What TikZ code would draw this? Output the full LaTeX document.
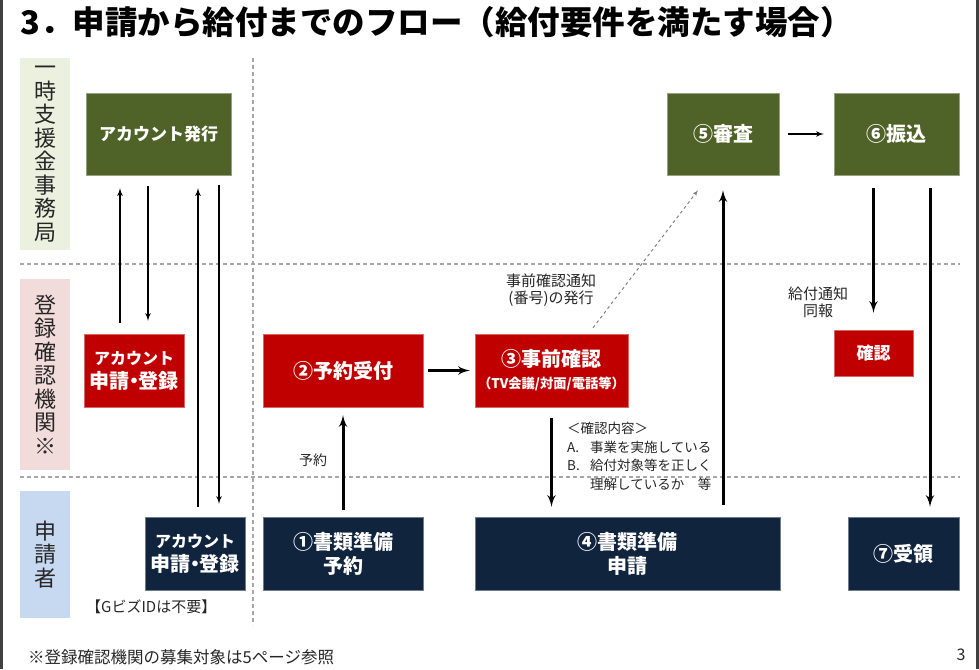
\documentclass[tikz,border=0pt]{standalone}
\usepackage{fontspec}
\setmainfont{Noto Sans CJK JP}
\usetikzlibrary{arrows.meta,arrows}

\definecolor{officegreen}{HTML}{4F6228}
\definecolor{checkred}{HTML}{C00000}
\definecolor{appnavy}{HTML}{10243E}
\definecolor{lanegreen}{HTML}{EBF1DE}
\definecolor{lanered}{HTML}{F2DCDB}
\definecolor{laneblue}{HTML}{C6D9F1}

\begin{document}
\begin{tikzpicture}
[x=1pt,y=-1pt,
lane/.style ={rectangle, inner sep=0pt, minimum width=50pt,
align=center, text=black!85,
font=\fontsize{22}{23.5}\selectfont},
box/.style ={rectangle, inner sep=0pt, text=white, align=center,
font=\bfseries\fontsize{20}{24}\selectfont},
office/.style ={box, fill=officegreen, draw=officegreen!60!white},
checker/.style ={box, fill=checkred, draw=checkred!60!white},
applicant/.style ={box, fill=appnavy, draw=appnavy!60!white},
sep/.style ={draw=gray!70, dash pattern=on 4pt off 3pt, line width=1.1pt},
line/.style ={draw, -latex', line width=1.6pt},
thickline/.style ={draw, -latex', line width=3pt},
note/.style ={inner sep=0pt, text=black!85, align=center,
font=\fontsize{15}{17}\selectfont}]
\useasboundingbox (0,0) rectangle (979,669);
% page frame
\fill[black!75] (0,0) rectangle (3,669);
\fill[black!75] (976,0) rectangle (979,669);
\node [anchor=west, font=\bfseries\fontsize{32.5}{32}\selectfont] (title) at (17,22)
{3．申請から給付までのフロー（給付要件を満たす場合）};
% lanes
\node [lane, fill=lanegreen, minimum height=192pt] (lane1) at (45,154) {一\\時\\支\\援\\金\\事\\務\\局};
\node [lane, fill=lanered, minimum height=191pt] (lane2) at (45,374.5) {登\\録\\確\\認\\機\\関\\※};
\node [lane, fill=laneblue, minimum height=127pt] (lane3) at (45,554.5) {申\\請\\者};
\path [sep] (20,264) -- (960,264);
\path [sep] (20,477) -- (960,477);
\path [sep] (253,58) -- (253,625);
% row 1
\node [office, minimum width=145pt, minimum height=82pt] (issue) at (158.5,134) {\fontsize{17}{20}\selectfont アカウント発行};
\node [office, minimum width=112pt, minimum height=82pt] (review) at (723,134) {⑤審査};
\node [office, minimum width=125pt, minimum height=82pt] (pay) at (896.5,134) {⑥振込};
% row 2
\node [checker, minimum width=100pt, minimum height=73pt] (acctreg) at (134,370.5)
{\fontsize{16}{22}\selectfont アカウント\\申請\makebox[0.45em]{・}登録};
\node [checker, minimum width=160pt, minimum height=73pt] (reserve) at (343,370.5) {②予約受付};
\node [checker, minimum width=153pt, minimum height=73pt] (precheck) at (551.5,370.5)
{③事前確認\\[-2pt]{\fontsize{13.3}{15}\selectfont （TV会議/対面/電話等）}};
\node [checker, minimum width=79pt, minimum height=46pt] (confirm) at (873.5,353) {\fontsize{17}{20}\selectfont 確認};
% row 3
\node [applicant, minimum width=100pt, minimum height=73pt] (acctapp) at (195,553.5)
{\fontsize{16}{22}\selectfont アカウント\\申請\makebox[0.45em]{・}登録};
\node [applicant, minimum width=160pt, minimum height=73pt] (prep) at (343,553.5) {①書類準備\\予約};
\node [applicant, minimum width=305pt, minimum height=73pt] (apply) at (627.5,553.5) {④書類準備\\申請};
\node [applicant, minimum width=111pt, minimum height=73pt] (receive) at (903.5,553.5) {⑦受領};
% labels
\node [note] (notice) at (551,290) {事前確認通知\\(番号)の発行};
\node [note, font=\fontsize{14}{17}\selectfont] (booking) at (313,460) {予約};
\node [note] (sendnote) at (818,302) {給付通知\\同報};
\node [note, anchor=north west, align=left, font=\fontsize{13.5}{18.5}\selectfont] (contents) at (567,422)
{＜確認内容＞\\\makebox[23pt][l]{A.}事業を実施している\\\makebox[23pt][l]{B.}給付対象等を正しく\\\makebox[23pt][l]{}理解しているか　等};
\node [note, anchor=west, font=\fontsize{15}{18}\selectfont] (gbiz) at (86,607) {【GビズIDは不要】};
\node [note, anchor=west, font=\fontsize{16.5}{18}\selectfont] (footer) at (28,657) {※登録確認機関の募集対象は5ページ参照};
\node [note, font=\fontsize{16}{18}\selectfont] (page) at (961,655) {3};
% connectors
\begin{scope}[shorten <=11pt, shorten >=13pt]
\path [line] ([xshift=-14pt]acctreg.north) -- ([xshift=-14pt]acctreg.north |- issue.south);
\path [line] ([xshift=-10.5pt]issue.south) -- ([xshift=-10.5pt]issue.south |- acctreg.north);
\end{scope}
\begin{scope}[shorten <=10pt, shorten >=13pt]
\path [line] ([xshift=3pt]acctapp.north) -- ([xshift=3pt]acctapp.north |- issue.south);
\path [line] ([xshift=24pt]acctapp.north |- issue.south) -- ([xshift=24pt]acctapp.north);
\end{scope}
\path [thickline, shorten <=7pt, shorten >=8pt] (prep.north) -- (reserve.south);
\path [thickline, shorten <=5pt, shorten >=5pt] (reserve.east) -- (precheck.west);
\path [thickline, shorten <=11pt, shorten >=10pt] (precheck.south) -- (precheck.south |- apply.north);
\path [thickline, shorten <=12pt, shorten >=15pt] (review.south |- apply.north) -- (review.south);
\path [line, dashed, gray, line width=1pt] ([xshift=41.5pt,yshift=6pt]precheck.north) -- ([xshift=-25pt,yshift=-15pt]review.south);
\path [line, shorten <=9pt, shorten >=10pt] (review.east) -- (pay.west);
\path [thickline, shorten <=13pt, shorten >=17pt] (confirm.north |- pay.south) -- (confirm.north);
\path [thickline, shorten <=13pt, shorten >=10pt] ([xshift=26.5pt]receive.north |- pay.south) -- ([xshift=26.5pt]receive.north);
\end{tikzpicture}
\end{document}
